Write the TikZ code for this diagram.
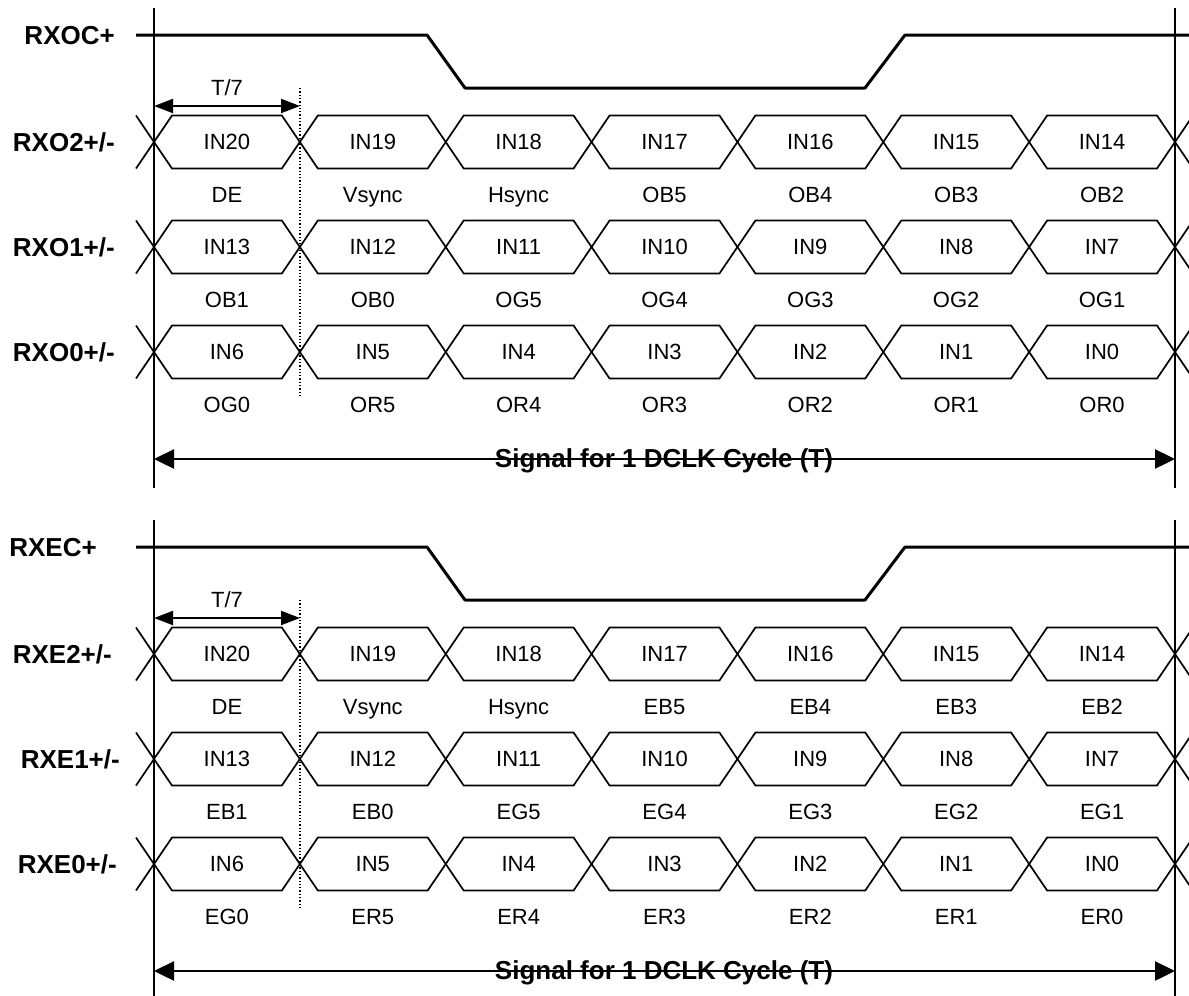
\documentclass[tikz,border=0pt]{standalone}
\usepackage{fontspec}
\setmainfont{Liberation Sans}
\usetikzlibrary{arrows.meta}

\tikzset{
  sig name/.style={font=\fontsize{26}{30}\selectfont\bfseries, anchor=east, inner sep=0pt, text height=19pt, text depth=0pt},
  bit/.style={font=\fontsize{22}{26}\selectfont, inner sep=0pt, text height=15.8pt, text depth=0pt},
  bus/.style={line width=1.7pt, line join=miter},
  clk line/.style={line width=3pt, line join=round},
  frame/.style={line width=1.4pt},
  period/.style={line width=2.4pt, {Triangle[length=20pt,width=19pt]}-{Triangle[length=20pt,width=19pt]}},
  slot/.style={line width=2pt, {Triangle[length=19pt,width=14pt]}-{Triangle[length=19pt,width=14pt]}},
}

\begin{document}
\begin{tikzpicture}[x=1pt,y=-1pt]
  \useasboundingbox (0,0) rectangle (1189,996);
  \clip (0,0) rectangle (1189,996);

  \foreach \yo/\pn/\cx/\lxs in {0/O/115/{115,115,115}, 512/E/97/{117,120,112}} {
  \begin{scope}[yshift=-\yo pt]
    % frame of one DCLK cycle
    \coordinate (ft\pn) at (154,8);
    \coordinate (fb\pn) at (154,488);
    \coordinate (gt\pn) at (1175,8);
    \coordinate (gb\pn) at (1175,488);
    \draw[frame] (ft\pn) -- (fb\pn);
    \draw[frame] (gt\pn) -- (gb\pn);

    % clock
    \node[sig name] (clk\pn) at (\cx,35) {RX\pn C+};
    \draw[clk line] (136,35) -- (427,35) -- (465,88) -- (865,88) -- (905,35) -- (1189,35);

    % T/7 marker
    \coordinate (sa\pn) at (154,106);
    \coordinate (sb\pn) at (300,106);
    \draw[slot] (sa\pn) -- (sb\pn);
    \node[bit] (tsev\pn) at (227,88) {T/7};
    \draw[dotted, line width=1.3pt] (300,88) -- (300,398);

    % data lanes
    \foreach \r/\yc/\under in {
        2/142/{DE,Vsync,Hsync,\pn B5,\pn B4,\pn B3,\pn B2},
        1/247/{\pn B1,\pn B0,\pn G5,\pn G4,\pn G3,\pn G2,\pn G1},
        0/352/{\pn G0,\pn R5,\pn R4,\pn R3,\pn R2,\pn R1,\pn R0}} {
      \pgfmathsetmacro\lx{{\lxs}[\r]}
      \node[sig name] (lane\pn\r) at (\lx,\yc) {RX\pn\r+/-};
      \draw[bus] (136,\yc-26.5) -- (154,\yc) -- (136,\yc+26.5);
      \draw[bus] (1193,\yc-26.5) -- (1175,\yc) -- (1193,\yc+26.5);
      \foreach [count=\k from 0] \u in \under {
        \pgfmathsetmacro\xa{154+145.857*\k}
        \pgfmathsetmacro\xb{\xa+145.857}
        \pgfmathtruncatemacro\n{7*\r+6-\k}
        \draw[bus] (\xa,\yc) -- (\xa+18,\yc-26.5) -- (\xb-18,\yc-26.5)
          -- (\xb,\yc) -- (\xb-18,\yc+26.5) -- (\xa+18,\yc+26.5) -- cycle;
        \node[bit] (in\pn\n) at (\xa+72.93,\yc) {IN\n};
        \node[bit] (lo\pn\n) at (\xa+72.93,\yc+53) {\u};
      }
    }

    % whole cycle
    \coordinate (pa\pn) at (154,459);
    \coordinate (pb\pn) at (1175,459);
    \draw[period] (pa\pn) -- (pb\pn);
    \node[font=\fontsize{26}{30}\selectfont\bfseries, anchor=base, inner sep=0pt] (cyc\pn) at (664,467) {Signal for 1 DCLK Cycle (T)};
  \end{scope}
  }
\end{tikzpicture}
\end{document}
